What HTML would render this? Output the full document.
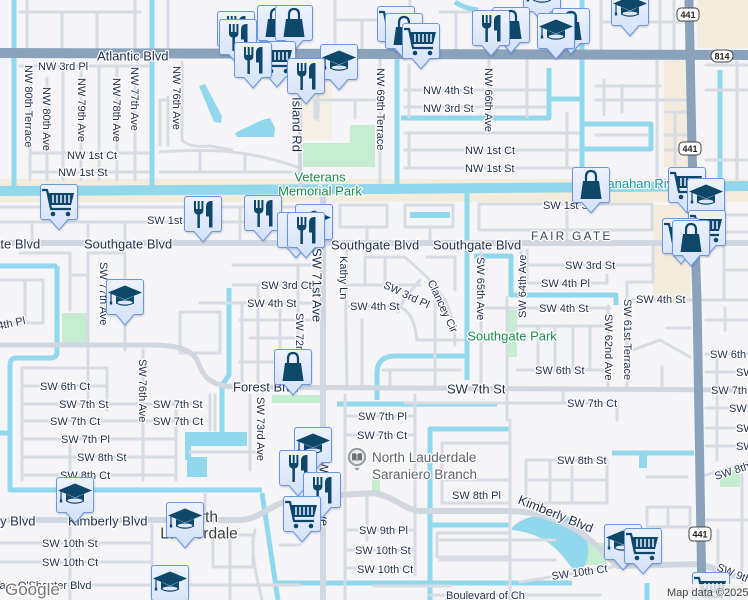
<!DOCTYPE html>
<html><head><meta charset="utf-8"><style>
html,body{margin:0;padding:0;background:#f5f4f6}
svg{display:block}
.t{font-family:"Liberation Sans",Arial,sans-serif;font-size:11px;fill:#1f2d4b;stroke:#fff;stroke-width:2.5px;stroke-linejoin:round;paint-order:stroke}
.b{font-size:13px}
.gr{fill:#1a8c4c;font-size:13px}
.wa{fill:#1b93a3;font-size:13px}
.lb{fill:#5f6368;font-size:13.5px}
.tw{fill:#3c4043;font-size:15.5px}
.fg{font-size:12px;fill:#3a4458;letter-spacing:2.2px}
.sh{font-family:"Liberation Sans",Arial,sans-serif;font-size:9px;fill:#222;font-weight:bold}
</style></head><body>
<svg width="748" height="600" viewBox="0 0 748 600" xmlns="http://www.w3.org/2000/svg">
<defs>
<linearGradient id="mg" x1="0" y1="0" x2="0" y2="1"><stop offset="0" stop-color="#edf2fd"/><stop offset="1" stop-color="#d4e1f9"/></linearGradient>
<filter id="sh" x="-20%" y="-20%" width="140%" height="140%"><feGaussianBlur stdDeviation="1.1"/></filter>
<path id="mb" d="M3,0.5 H35 A2.5,2.5 0 0 1 37.5,3 V33 A2.5,2.5 0 0 1 35,35.5 H28 L19,46 L10,35.5 H3 A2.5,2.5 0 0 1 0.5,33 V3 A2.5,2.5 0 0 1 3,0.5 Z"/>
<g id="iF" fill="#0d4769">
<path d="M10,5 h2 v8 h1.7 v-8 h2 v8 h1.7 v-8 h2 v9 q0,4 -3.5,4.5 v13.5 h-2.5 v-13.5 q-3.4,-0.5 -3.4,-4.5 z"/>
<path d="M22,20.5 V11 Q22,5 27.5,5 H28.5 V31.5 H25 V20.5 Z"/>
</g>
<g id="iB" fill="#0d4769">
<path d="M11,14 H27 L29.5,32 H8.5 Z"/>
<path d="M14,16 V10 Q14,4 19,4 Q24,4 24,10 V16" fill="none" stroke="#0d4769" stroke-width="2.2"/>
</g>
<g id="iC">
<path d="M2,6 H7 L11,25 H31" fill="none" stroke="#0d4769" stroke-width="2.2" stroke-linejoin="round"/>
<path d="M8,9 H34 L31,21 H10.5 Z" fill="#0d4769"/>
<path d="M13,11 V19 M17,11 V19 M21,11 V19 M25,11 V19 M29,11 V19" stroke="#dde7fb" stroke-width="1.6"/>
<circle cx="13" cy="30" r="2.3" fill="#0d4769"/><circle cx="28" cy="30" r="2.3" fill="#0d4769"/>
</g>
<g id="iG" fill="#0d4769">
<path d="M2,13.5 L19,6.5 L36,13.5 L19,20.5 Z"/>
<path d="M10,17 V24.5 Q19,29 28,24.5 V17 L19,21 Z"/>
<ellipse cx="19" cy="23.5" rx="7.5" ry="2" fill="#dde7fb"/>
<path d="M5,14 V23" stroke="#0d4769" stroke-width="1.2"/>
<rect x="3.8" y="22.5" width="2.4" height="3"/>
</g>
<g id="bg"><use href="#mb" transform="translate(0.5,1.5)" fill="#203040" opacity=".25" filter="url(#sh)"/><use href="#mb" fill="url(#mg)" stroke="#6b97e2" stroke-width="1"/></g>
<g id="mF"><use href="#bg"/><use href="#iF"/></g>
<g id="mB"><use href="#bg"/><use href="#iB"/></g>
<g id="mC"><use href="#bg"/><use href="#iC"/></g>
<g id="mG"><use href="#bg"/><use href="#iG"/></g>
</defs>

<rect width="748" height="600" fill="#f5f4f6"/>

<!-- tan areas -->
<g fill="#f3ecdd">
<rect x="697" y="0" width="51" height="48"/>
<rect x="664" y="60" width="25" height="107"/>
<rect x="653" y="205" width="37" height="98"/>
<rect x="0" y="179" width="748" height="23"/>
<rect x="302" y="75" width="30" height="65" fill="#f4efe4"/>
</g>
<!-- green -->
<g fill="#c6ecd2">
<path d="M303,143 H350 V125 H375 V167 H303 Z"/>
<rect x="62" y="313" width="25" height="30"/>
<rect x="272" y="395" width="48" height="8"/>
<rect x="508" y="310" width="9" height="47"/>
<rect x="720" y="470" width="20" height="17"/>
<rect x="574" y="543" width="32" height="22"/>
<rect x="372" y="472" width="8" height="20"/>
</g>

<!-- water -->
<g fill="none" stroke="#92d8ec" stroke-linejoin="round">
<path d="M0,191 L374,189 L748,186" stroke-width="10"/>
<path stroke-width="5" d="M14,0V191 M152,0V191 M397,58V191 M401,118H549V68 M549,99H582 M582,0V191 M584,124H651V149H584 M720,70V180 M467,191V380 M377,400V372Q378,356 395,356H467 M57,266V352Q57,358 50,358H16Q10,358 10,366V490H262 M0,266H57 M0,433H10 M262,493L278,600 M229,288V375L222,385V432 M337,404H497 M430,600V429H510 M430,525H510 M277,583H572 M474,256H511V295H616V305 M612,453H694 M455,2Q466,9 478,10 M647,583V600"/>
</g>
<g fill="#92d8ec">
<rect x="185" y="432" width="62" height="14"/>
<rect x="187" y="457" width="20" height="20"/>
<rect x="185" y="440" width="6" height="20"/>
<rect x="410" y="212" width="40" height="6"/>
<rect x="639" y="453" width="8" height="15"/>
<path d="M199,86 L205,84 L222,116 L221,123 L214,122 Z"/>
<path d="M235,133 L262,120 L270,118 L275,128 L274,137 L237,137 Z"/>
<path d="M512,528 C522,515 552,511 570,517 C586,524 592,548 586,563 C582,572 574,572 568,563 C556,546 540,533 512,530 Z"/>
</g>

<!-- minor roads -->
<path fill="none" stroke="#d7dce4" stroke-width="3" stroke-linecap="round" stroke-linejoin="round" d="
M20,12H140 M27,0V49 M62,12V49 M97,12V49 M135,0V49 M168,0V49
M335,0V49 M335,20H390 M362,20V49 M410,0V49 M440,12H470 M456,12V49
M601,0V49 M601,22H687 M660,0V49 M674,0V49
M20,66H148 M30,66V180 M47,78V180 M63,66V180 M81,66V180 M99,66V180 M117,66V180 M135,66V180 M30,153H148 M30,172H148
M160,100V145 M168,97V145 M160,100H168 M182,62V140 M182,140Q190,148 210,146L232,150 M160,152C210,148 250,150 300,168 M200,152V172 M245,155V172 M160,172H298
M305,80H335 M318,80V120 M315,100H375 M315,100V118 M355,100V118 M380,58V183 M340,60V80
M405,90H545 M405,107H545 M409,65V117 M489,58V117 M527,60V117 M405,133H578 M409,133V168 M405,150H578 M405,168H578 M567,113V168
M596,86H660 M596,100H688 M604,80V115 M622,85V112 M596,135H648 M657,60V180 M665,112H688 M665,135H688 M665,150H688 M675,112V165
M706,65H748 M706,90H748 M737,62V180 M706,160H748
M0,207H300 M0,222H300 M32,222V243 M88,222V243 M125,222V243 M240,207V243
M340,205H387V227H340Z M405,205H453V227H405Z M430,227V243 M367,227V243
M479,204H652V230H479Z M567,204V243
M706,215H748 M724,205V300 M724,232H748 M724,270H748
M0,280H43 M25,280V323 M43,280V323 M0,323H43 M70,253V310 M70,275H88 M88,253V400 M88,253H125 M125,253V350 M180,312H220V353H180Z M70,253H20
M22,368H107V410 M22,368V480 M22,386H107 M22,404H200 M22,421H200 M22,439H176 M22,457H176 M22,475H176 M143,350V480 M176,400V480 M210,395V430
M190,452H263 M250,395V470 M215,395V430
M233,265H320 M233,285H320 M200,303H320 M240,320H320 M242,303V385 M258,285V385 M280,303V385 M298,265V385 M250,338H298 M240,362H280
M347,248C345,300 346,340 347,389 M365,257H405 M365,257V285 M385,257V285 M347,285H420 M405,257L428,278L445,300C452,315 455,330 455,345 M427,257H455V290 M420,280C410,292 402,300 398,312 M347,306H398C410,310 415,322 417,340H463 M362,320V389 M435,290V389 M383,370H460 M390,370V389
M481,248V389 M527,265H653 M527,283H607V275 M527,250V283 M521,248V295 M480,308H610 M627,300H748 M627,282V387 M627,282H653 M653,243V280 M507,297V420 M517,326H607 M538,326V370 M555,326V370 M573,326V370 M590,326V370 M608,306V389 M517,370H607 M633,350L660,340L690,357 M667,328H690 M662,367V389 M507,403H617 M563,389V403 M617,403V420 M480,340H507
M706,320H748 M706,354H748 M706,372H748 M706,408H748 M706,428H748 M706,446H748 M706,475L748,462 M717,350V460 M742,475V600 M706,520H748 M718,530V600 M725,308V330
M405,403H507
M345,395V600 M345,416H415 M345,435H415 M367,497V540 M345,530H415 M345,550H415 M345,568H415 M415,395V575 M442,443H510 M442,443V503 M442,480H510 M442,503H510 M437,533H510V557H437Z M510,420V600
M526,460V503 M526,460H607 M526,480H607 M526,503H607 M550,460V503 M572,460V503 M607,460V503 M647,507H690V527H647Z M668,507V527 M647,477H687 M660,533V553
M0,543H150 M0,562H150 M0,585H300 M70,440V600 M152,525V600 M230,530V600 M205,493V520 M213,535H253V567H213Z M255,530C250,550 255,570 262,600 M280,545H300
M430,595H600 M374,586H450 M440,540H555 M440,560H555 M520,582L618,566"/>

<!-- arterials -->
<g fill="none" stroke="#d0d7e0" stroke-linecap="round" stroke-linejoin="round">
<path d="M0,243H748" stroke-width="6"/>
<path d="M323,191V600" stroke-width="6"/>
<path d="M300,58V191" stroke-width="4"/>
<path d="M0,345 H150 C180,345 192,350 198,362 C203,378 212,387 240,387 L748,390" stroke-width="5"/>
<path d="M0,520 H240 C258,520 270,505 290,500 L323,496 L374,493 C395,497 405,510 420,511 L505,511 C540,511 560,520 580,532 C598,545 608,558 618,566 L700,564 L748,580" stroke-width="6"/>
</g>
<!-- major -->
<g fill="none" stroke="#8ba2bb">
<path d="M0,53 L748,55" stroke-width="10"/>
<path d="M689,0 L692,150 L697,300 L702,600" stroke-width="9"/>
</g>

<!-- shields -->
<g>
<rect x="677" y="8" width="22" height="13" rx="4" fill="#fff" stroke="#444" stroke-width="1"/><text class="sh" x="688" y="18" text-anchor="middle">441</text>
<rect x="679" y="142" width="22" height="13" rx="4" fill="#fff" stroke="#444" stroke-width="1"/><text class="sh" x="690" y="152" text-anchor="middle">441</text>
<rect x="689" y="527" width="22" height="14" rx="4" fill="#fff" stroke="#444" stroke-width="1"/><text class="sh" x="700" y="537.5" text-anchor="middle">441</text>
<rect x="711" y="50" width="22" height="12" rx="6" fill="#fff" stroke="#444" stroke-width="1"/><text class="sh" x="722" y="59.5" text-anchor="middle">814</text>
</g>

<!-- labels -->
<g class="t">
<text class="b" x="97" y="60.5">Atlantic Blvd</text>
<text x="38" y="70">NW 3rd Pl</text>
<text transform="translate(25,65) rotate(90)">NW 80th Terrace</text>
<text transform="translate(43,87) rotate(90)">NW 80th Ave</text>
<text transform="translate(78,78) rotate(90)">NW 79th Ave</text>
<text transform="translate(113,78) rotate(90)">NW 78th Ave</text>
<text transform="translate(131,67) rotate(90)">NW 77th Ave</text>
<text transform="translate(173,66) rotate(90)">NW 76th Ave</text>
<text class="b" transform="translate(292.5,97) rotate(90)">Island Rd</text>
<text transform="translate(377,68) rotate(90)">NW 69th Terrace</text>
<text transform="translate(485,68) rotate(90)">NW 66th Ave</text>
<text x="67" y="159">NW 1st Ct</text>
<text x="58" y="176">NW 1st St</text>
<text x="423" y="94">NW 4th St</text>
<text x="423" y="112">NW 3rd St</text>
<text x="465" y="154">NW 1st Ct</text>
<text x="465" y="172">NW 1st St</text>
<text class="gr" x="320" y="181.5" text-anchor="middle">Veterans</text>
<text class="gr" x="320" y="195.5" text-anchor="middle">Memorial Park</text>
<text class="wa" x="598" y="188">Hanahan River</text>
<text x="147" y="224">SW 1st St</text>
<text x="543" y="209">SW 1st St</text>
<text class="b" x="-48" y="248.5">Southgate Blvd</text>
<text class="b" x="84" y="248.5">Southgate Blvd</text>
<text class="b" x="331" y="249.5">Southgate Blvd</text>
<text class="b" x="433" y="249.5">Southgate Blvd</text>
<text class="fg" x="531" y="240">FAIR GATE</text>
<text class="b" transform="translate(312.5,248) rotate(90)">SW 71st Ave</text>
<text transform="translate(340,256) rotate(90)">Kathy Ln</text>
<text transform="translate(296,313) rotate(90)">SW 72nd Ave</text>
<text transform="translate(477,257) rotate(90)">SW 65th Ave</text>
<text transform="translate(526,318) rotate(-90)">SW 64th Ave</text>
<text transform="translate(100,262) rotate(90)">SW 77th Ave</text>
<text transform="translate(139,359) rotate(90)">SW 76th Ave</text>
<text transform="translate(257,397) rotate(90)">SW 73rd Ave</text>
<text transform="translate(605,314) rotate(90)">SW 62nd Ave</text>
<text transform="translate(624,299) rotate(90)">SW 61st Terrace</text>
<text class="b" transform="translate(319.5,452) rotate(90)">SW 71st Ave</text>
<text x="261" y="289">SW 3rd Ct</text>
<text x="247" y="307">SW 4th St</text>
<text x="350" y="310">SW 4th St</text>
<text transform="translate(405,298) rotate(25)" text-anchor="middle">SW 3rd Pl</text>
<text transform="translate(439.4,307.7) rotate(65)" text-anchor="middle">Clancey Cir</text>
<text x="565" y="269">SW 3rd St</text>
<text x="541" y="287">SW 4th Pl</text>
<text x="539" y="312">SW 4th St</text>
<text x="636" y="303">SW 4th St</text>
<text class="gr" x="512" y="340.5" text-anchor="middle">Southgate Park</text>
<text x="535" y="374">SW 6th St</text>
<text class="b" x="447" y="393.5">SW 7th St</text>
<text x="567" y="407">SW 7th Ct</text>
<text transform="translate(-22,334) rotate(-12)">SW 4th Pl</text>
<text x="40" y="390">SW 6th Ct</text>
<text x="59" y="408">SW 7th St</text>
<text x="50" y="425">SW 7th Ct</text>
<text x="61" y="443">SW 7th Pl</text>
<text x="77" y="461">SW 8th St</text>
<text x="60" y="479">SW 8th Ct</text>
<text x="153" y="408">SW 7th St</text>
<text x="153" y="425">SW 7th Ct</text>
<text class="b" x="233" y="391.5">Forest Blvd</text>
<text class="b" x="-44" y="525.5">Kimberly Blvd</text>
<text class="b" x="68" y="525.5">Kimberly Blvd</text>
<text class="b" transform="translate(554,518) rotate(22)" text-anchor="middle">Kimberly Blvd</text>
<text x="42" y="547">SW 10th St</text>
<text x="42" y="566">SW 10th Ct</text>
<text x="-6" y="589">Tam O'Shanter Blvd</text>
<text class="tw" x="199" y="522" text-anchor="middle">North</text>
<text class="tw" x="199" y="538.5" text-anchor="middle">Lauderdale</text>
<text x="358" y="420">SW 7th Pl</text>
<text x="357" y="439">SW 7th Ct</text>
<text class="lb" x="372" y="462">North Lauderdale</text>
<text class="lb" x="372" y="479">Saraniero Branch</text>
<text x="557" y="464">SW 8th St</text>
<text x="452" y="499">SW 8th Pl</text>
<text x="359" y="534">SW 9th Pl</text>
<text x="355" y="554">SW 10th St</text>
<text x="357" y="573">SW 10th Ct</text>
<text transform="translate(580,576) rotate(-8)" text-anchor="middle">SW 10th Ct</text>
<text x="446" y="599">Boulevard of Ch</text>
<text x="710" y="358">SW 6th</text>
<text x="736" y="376">SW</text>
<text x="711" y="394">SW 7th</text>
<text x="729" y="412">SW 7</text>
<text x="736" y="432">SW</text>
<text x="736" y="450">SW</text>
<text transform="translate(716,480) rotate(-18)">SW 8th</text>
<text transform="translate(716,570) rotate(22)">SW 9th</text>
</g>

<!-- library pin -->
<g>
<path d="M352,465 L357,471 L362,465 Z" fill="#9aa0a6"/>
<circle cx="357" cy="457" r="10" fill="#9aa0a6" stroke="#fff" stroke-width="1.5"/>
<circle cx="357" cy="457" r="7" fill="#eef0f2"/>
<path d="M352,453.5 Q354.5,452.5 356.6,454 V461 Q354.5,459.8 352,460.6 Z M357.4,454 Q359.5,452.5 362,453.5 V460.6 Q359.5,459.8 357.4,461 Z" fill="#70757a"/>
</g>

<!-- markers -->
<use href="#mF" x="217" y="11"/>
<use href="#mF" x="219" y="19"/>
<use href="#mB" x="257" y="5"/>
<use href="#mB" x="275" y="5"/>
<use href="#mC" x="258" y="41"/>
<use href="#mF" x="234" y="42"/>
<use href="#mG" x="320" y="44"/>
<use href="#mF" x="287" y="58"/>

<use href="#mC" x="377" y="6"/>
<use href="#mB" x="385" y="13"/>
<use href="#mC" x="402" y="23"/>
<use href="#mG" x="523" y="-24"/>
<use href="#mB" x="492" y="7"/>
<use href="#mF" x="472" y="10"/>
<use href="#mB" x="552" y="8"/>
<use href="#mG" x="537" y="13"/>
<use href="#mG" x="611" y="-10"/>

<use href="#mC" x="40" y="184"/>
<use href="#mF" x="184" y="196"/>
<use href="#mF" x="244" y="195"/>
<use href="#mG" x="295" y="204"/>
<use href="#mF" x="277" y="212"/>
<use href="#mF" x="287" y="212"/>

<use href="#mB" x="572" y="167"/>
<use href="#mC" x="668" y="167"/>
<use href="#mG" x="687" y="178"/>
<use href="#mC" x="688" y="210"/>
<use href="#mC" x="662" y="218"/>
<use href="#mB" x="672" y="220"/>

<use href="#mG" x="106" y="279"/>
<use href="#mB" x="274" y="349"/>
<use href="#mG" x="294" y="427"/>
<use href="#mF" x="279" y="450"/>
<use href="#mF" x="303" y="472"/>
<use href="#mC" x="283" y="496"/>
<use href="#mG" x="56" y="477"/>
<use href="#mG" x="166" y="502"/>
<use href="#mG" x="151" y="565"/>
<use href="#mG" x="604" y="524"/>
<use href="#mC" x="624" y="528"/>
<use href="#mC" x="692" y="572"/>

<!-- attribution -->
<text x="5" y="595" style="font-family:'Liberation Sans',Arial,sans-serif;font-size:17px;fill:#777;stroke:#fff;stroke-width:3px;paint-order:stroke;stroke-linejoin:round">Google</text>
<rect x="663" y="584" width="85" height="16" fill="#f5f5f5" opacity=".85"/>
<text x="667" y="596" style="font-family:'Liberation Sans',Arial,sans-serif;font-size:11px;fill:#444">Map data ©2025</text>
</svg>
</body></html>
